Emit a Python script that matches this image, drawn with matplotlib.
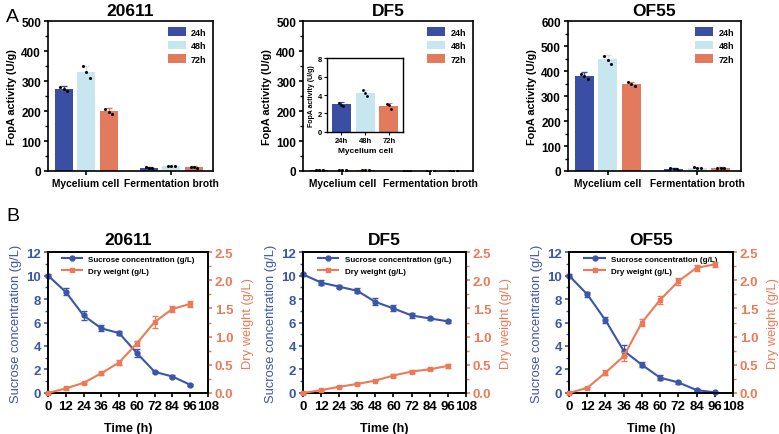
import matplotlib
matplotlib.use("Agg")
import matplotlib.pyplot as plt
import numpy as np
from matplotlib.lines import Line2D
from matplotlib.ticker import MultipleLocator

plt.rcParams['font.family'] = ['Liberation Sans', 'DejaVu Sans']
plt.rcParams['font.weight'] = 'bold'
plt.rcParams['axes.linewidth'] = 1.2

# 色
C24 = '#3A4FA3'
C48 = '#C8E6F0'
C72 = '#E27A5E'
BLUE = '#3B55A8'
ORANGE = '#EC7A57'

# 上段データ (FopA活性)
groups = ['Mycelium cell', 'Fermentation broth']
times = ['24h', '48h', '72h']

s20611_mean = [[275, 330, 200], [10, 15, 12]]
s20611_err = [[10, 20, 10], [3, 2, 3]]
s20611_rep = [[[280, 272, 266], [350, 330, 310], [208, 198, 190]],
              [[12, 10, 9], [16, 15, 15], [13, 12, 11]]]

df5_mean = [[3.0, 4.2, 2.8], [0.5, 0.6, 0.4]]
df5_err = [[0.2, 0.35, 0.3], [0.1, 0.1, 0.1]]
df5_rep = [[[3.1, 2.9, 2.8], [4.5, 4.2, 3.9], [3.0, 2.9, 2.5]],
           [[0.5, 0.6, 0.4], [0.6, 0.7, 0.5], [0.4, 0.5, 0.3]]]

of55_mean = [[380, 447, 348], [8, 13, 12]]
of55_err = [[15, 18, 10], [3, 3, 2]]
of55_rep = [[[390, 380, 370], [460, 445, 430], [355, 350, 340]],
            [[10, 8, 6], [15, 13, 12], [13, 12, 12]]]

# 下段データ (時間経過)
hours = [0, 12, 24, 36, 48, 60, 72, 84, 96]

suc_20611 = [10.0, 8.6, 6.6, 5.5, 5.1, 3.4, 1.8, 1.4, 0.7]
suc_20611_err = [0.1, 0.3, 0.35, 0.25, 0.2, 0.35, 0.1, 0.1, 0.1]
dw_20611 = [0.0, 0.08, 0.18, 0.35, 0.54, 0.88, 1.26, 1.49, 1.58]
dw_20611_err = [0.01, 0.02, 0.02, 0.03, 0.05, 0.05, 0.1, 0.05, 0.05]

suc_df5 = [10.1, 9.4, 9.05, 8.7, 7.75, 7.2, 6.6, 6.35, 6.1]
suc_df5_err = [0.1, 0.2, 0.15, 0.2, 0.3, 0.25, 0.2, 0.1, 0.1]
dw_df5 = [0.0, 0.05, 0.11, 0.16, 0.22, 0.31, 0.38, 0.42, 0.48]
dw_df5_err = [0.01, 0.01, 0.01, 0.01, 0.01, 0.02, 0.02, 0.02, 0.04]

suc_of55 = [10.0, 8.4, 6.2, 3.6, 2.4, 1.3, 0.9, 0.25, 0.05]
suc_of55_err = [0.1, 0.2, 0.25, 0.45, 0.2, 0.2, 0.1, 0.1, 0.05]
dw_of55 = [0.0, 0.09, 0.36, 0.65, 1.25, 1.65, 1.98, 2.22, 2.28]
dw_of55_err = [0.01, 0.02, 0.04, 0.08, 0.07, 0.07, 0.06, 0.05, 0.05]

fig = plt.figure(figsize=(7.79, 4.35), dpi=100)

colors = [C24, C48, C72]
group_x = [0, 3.8]
offs = [-1, 0, 1]
dot_off = [-0.15, 0, 0.15]


# 棒グラフ
def bar_panel(ax, mean, err, rep, title, ymax, legend=True):
    for g in range(2):
        for t in range(3):
            x = group_x[g] + offs[t]
            ax.bar(x, mean[g][t], width=0.8, color=colors[t],
                   label=times[t] if g == 0 else None, zorder=2)
            ax.errorbar(x, mean[g][t], yerr=err[g][t], color=colors[t],
                        capsize=2.5, elinewidth=1, capthick=1, zorder=3)
            ax.scatter([x + d for d in dot_off], rep[g][t], s=1.5,
                       color='black', zorder=4)
    ax.set_xlim(-1.7, 5.65)
    ax.set_ylim(0, ymax)
    ax.set_xticks(group_x)
    ax.set_xticklabels(groups, fontsize=7.4, fontweight='bold')
    ax.yaxis.set_major_locator(MultipleLocator(100))
    ax.yaxis.set_minor_locator(MultipleLocator(50))
    ax.tick_params(axis='y', labelsize=8.5, width=1.2, length=3, pad=2)
    ax.tick_params(axis='y', which='minor', length=2, width=1)
    ax.tick_params(axis='x', length=3, width=1.2, pad=2)
    for lb in ax.get_yticklabels():
        lb.set_fontweight('bold')
    ax.set_ylabel('FopA activity (U/g)', fontsize=7.8, fontweight='bold',
                  labelpad=3)
    ax.set_title(title, fontsize=12.5, fontweight='bold', pad=4)
    if legend:
        ax.legend(loc='upper right', frameon=False, fontsize=6.5,
                  handlelength=2.0, handleheight=1.1, borderaxespad=0.3,
                  labelspacing=0.45, handletextpad=0.6)


ax1 = fig.add_axes([0.0616, 0.6046, 0.2118, 0.3448])
bar_panel(ax1, s20611_mean, s20611_err, s20611_rep, '20611', 500)

ax2 = fig.add_axes([0.389, 0.6046, 0.218, 0.3448])
bar_panel(ax2, df5_mean, df5_err, df5_rep, 'DF5', 500)

ax3 = fig.add_axes([0.729, 0.6046, 0.222, 0.3448])
bar_panel(ax3, of55_mean, of55_err, of55_rep, 'OF55', 600)

# DF5 の拡大図
axin = fig.add_axes([0.4198, 0.6943, 0.0976, 0.170])
for t in range(3):
    axin.bar(t, df5_mean[0][t], width=0.8, color=colors[t], zorder=2)
    axin.errorbar(t, df5_mean[0][t], yerr=df5_err[0][t], color=colors[t],
                  capsize=2.5, elinewidth=0.8, capthick=0.8, zorder=3)
    axin.scatter([t + d * 0.5 for d in dot_off], df5_rep[0][t], s=1,
                 color='black', zorder=4)
axin.set_xlim(-0.6, 2.6)
axin.set_ylim(0, 8)
axin.set_xticks(range(3))
axin.set_xticklabels(times, fontsize=5.5, fontweight='bold')
axin.set_yticks([0, 2, 4, 6, 8])
axin.tick_params(labelsize=5.5, length=2, width=0.8, pad=1.5)
axin.set_ylabel('FopA activity (U/g)', fontsize=5, fontweight='bold', labelpad=2)
axin.set_xlabel('Mycelium cell', fontsize=6, fontweight='bold', labelpad=2)
for sp in axin.spines.values():
    sp.set_linewidth(1)

fig.text(0.008, 0.96, 'A', fontsize=14, fontweight='normal', va='center')
fig.text(0.008, 0.503, 'B', fontsize=14, fontweight='normal', va='center')


# 折れ線グラフ
def line_panel(ax, suc, suc_err, dw, dw_err, title):
    ax.errorbar(hours, suc, yerr=suc_err, color=BLUE, marker='o',
                markersize=3.5, lw=1.5, capsize=2.5, elinewidth=0.8,
                clip_on=False, zorder=3)
    ax.set_xlim(0, 108)
    ax.set_ylim(0, 12)
    ax.set_xticks(range(0, 109, 12))
    ax.yaxis.set_major_locator(MultipleLocator(2))
    ax.yaxis.set_minor_locator(MultipleLocator(1))
    ax.tick_params(axis='x', labelsize=9.5, width=1.2, length=3, pad=2)
    ax.tick_params(axis='y', labelsize=9.5, colors=BLUE, width=1.2, length=3,
                   pad=2)
    ax.tick_params(axis='y', which='minor', length=2, width=1, colors=BLUE)
    for lb in ax.get_xticklabels() + ax.get_yticklabels():
        lb.set_fontweight('bold')
    ax.set_ylabel('Sucrose concentration (g/L)', color=BLUE, fontsize=9.3,
                  fontweight='normal', labelpad=3)
    ax.set_xlabel('Time (h)', fontsize=9, fontweight='bold', labelpad=7)
    ax.set_title(title, fontsize=12.5, fontweight='bold', pad=6)

    ax2 = ax.twinx()
    ax2.errorbar(hours, dw, yerr=dw_err, color=ORANGE, marker='s',
                 markersize=3.5, lw=1.5, capsize=2.5, elinewidth=0.8,
                 clip_on=False, zorder=3)
    ax2.set_ylim(0, 2.5)
    ax2.yaxis.set_major_locator(MultipleLocator(0.5))
    ax2.yaxis.set_minor_locator(MultipleLocator(0.25))
    ax2.tick_params(axis='y', labelsize=9.5, colors=ORANGE, width=1.2,
                    length=3, pad=2)
    ax2.tick_params(axis='y', which='minor', length=2, width=1, colors=ORANGE)
    for lb in ax2.get_yticklabels():
        lb.set_fontweight('bold')
    ax2.set_ylabel('Dry weight (g/L)', color=ORANGE, fontsize=9.3,
                   fontweight='normal', labelpad=6)
    ax2.spines['right'].set_linewidth(1.2)
    handles = [Line2D([], [], color=BLUE, marker='o', markersize=3.5, lw=1.5),
               Line2D([], [], color=ORANGE, marker='s', markersize=3.5, lw=1.5)]
    ax.legend(handles, ['Sucrose concentration (g/L)', 'Dry weight (g/L)'],
              loc='upper center', frameon=False, fontsize=5.8,
              bbox_to_anchor=(0.5, 1.03), handlelength=2.5, labelspacing=0.6)


bx1 = fig.add_axes([0.0616, 0.0943, 0.2054, 0.324])
line_panel(bx1, suc_20611, suc_20611_err, dw_20611, dw_20611_err, '20611')

bx2 = fig.add_axes([0.389, 0.0943, 0.209, 0.324])
line_panel(bx2, suc_df5, suc_df5_err, dw_df5, dw_df5_err, 'DF5')

bx3 = fig.add_axes([0.7304, 0.0943, 0.2105, 0.324])
line_panel(bx3, suc_of55, suc_of55_err, dw_of55, dw_of55_err, 'OF55')

fig.savefig('out.png', dpi=100)
